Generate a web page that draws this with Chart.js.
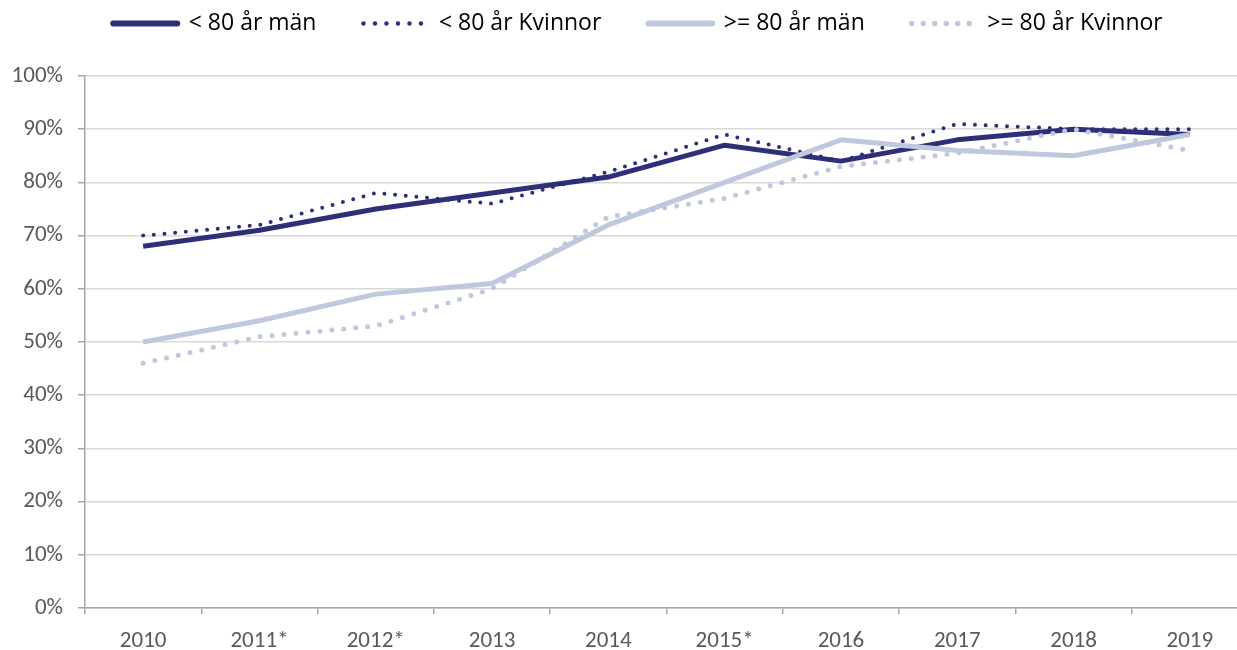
<!DOCTYPE html>
<html>
<head>
<meta charset="utf-8">
<script src="https://cdn.jsdelivr.net/npm/chart.js@4"></script>
<style>
  html, body { margin: 0; padding: 0; background: #fff; overflow: hidden; }
  #wrap { width: 1252px; height: 650px; }
</style>
</head>
<body>
<div id="wrap"><canvas id="myChart" width="1252" height="650"></canvas></div>
<script>
const years = ["2010", "2011*", "2012*", "2013", "2014", "2015*", "2016", "2017", "2018", "2019"];
const under80Men = [68, 71, 75, 78, 81, 87, 84, 88, 90, 89];
const under80Women = [70, 72, 78, 76, 82, 89, 84, 91, 90, 90];
const over80Men = [50, 54, 59, 61, 72, 80, 88, 86, 85, 89];
const over80Women = [46, 51, 53, 60, 73.5, 77, 83, 85.5, 90, 86];
const yTicks = [0, 10, 20, 30, 40, 50, 60, 70, 80, 90, 100];

const dark = "#2e2f78";
const light = "#bfc8dc";
const tickFont = "Carlito, Calibri, Lato, sans-serif";
const legendFont = "'Open Sans', 'Noto Sans', sans-serif";

const datasets = [
  {
    label: "< 80 år män",
    data: under80Men,
    borderColor: dark,
    backgroundColor: dark,
    borderWidth: 5,
    order: 4
  },
  {
    label: "< 80 år Kvinnor",
    data: under80Women,
    borderColor: dark,
    backgroundColor: dark,
    borderWidth: 4,
    borderDash: [0, 10.7],
    borderCapStyle: "round",
    order: 3
  },
  {
    label: ">= 80 år män",
    data: over80Men,
    borderColor: light,
    backgroundColor: light,
    borderWidth: 5,
    order: 2
  },
  {
    label: ">= 80 år Kvinnor",
    data: over80Women,
    borderColor: light,
    backgroundColor: light,
    borderWidth: 5,
    borderDash: [0, 12],
    borderCapStyle: "round",
    order: 1
  }
];

// legend placement tweaks: fixed height and a small shift to the right
const legendFix = {
  id: "legendFix",
  beforeLayout(chart) {
    const legend = chart.legend;
    if (legend && !legend._patched) {
      const fit = legend.fit;
      legend.fit = function () {
        fit.call(this);
        this.height = 111;
      };
      legend._patched = true;
    }
  },
  afterLayout(chart) {
    chart.legend.left += 14;
    chart.legend.right += 14;
  }
};

const config = {
  type: "line",
  data: { labels: years, datasets },
  plugins: [legendFix],
  options: {
    responsive: false,
    animation: false,
    devicePixelRatio: 1,
    layout: { padding: { left: 0, right: 4, top: -35, bottom: 0 } },
    elements: {
      point: { radius: 0, hoverRadius: 0 },
      line: { tension: 0, borderJoinStyle: "round" }
    },
    plugins: {
      tooltip: { enabled: false },
      legend: {
        position: "top",
        labels: {
          usePointStyle: true,
          pointStyle: "line",
          pointStyleWidth: 64,
          padding: 47,
          color: "#000",
          font: { family: legendFont, size: 23 },
          sort: (a, b) => a.datasetIndex - b.datasetIndex,
          generateLabels: (c) => {
            const items = Chart.defaults.plugins.legend.labels.generateLabels(c);
            items.forEach((it) => {
              const ds = c.data.datasets[it.datasetIndex];
              it.pointStyle = "line";
              it.strokeStyle = ds.borderColor;
              it.fillStyle = ds.borderColor;
              it.lineCap = "round";
              it.lineDash = ds.borderDash ? [0, 11.5] : [];
              it.lineWidth = ds.borderDash ? (ds.borderWidth + 0.5) : 6;
            });
            return items;
          }
        }
      }
    },
    scales: {
      x: {
        offset: true,
        grid: {
          offset: true,
          drawOnChartArea: false,
          color: "#a6a6a6",
          lineWidth: 1.5,
          tickLength: 6
        },
        border: { color: "#a6a6a6", width: 1.5 },
        ticks: {
          color: "#595959",
          font: { family: tickFont, size: 23 },
          padding: 13,
          maxRotation: 0
        },
        afterFit: (scale) => { scale.height = 42; }
      },
      y: {
        min: 0,
        max: 100,
        afterBuildTicks: (scale) => { scale.ticks = yTicks.map((v) => ({ value: v })); },
        grid: {
          color: "#d9d9d9",
          tickColor: "#a6a6a6",
          lineWidth: 1.5,
          tickLength: 7
        },
        border: { color: "#a6a6a6", width: 1.5 },
        ticks: {
          color: "#595959",
          font: { family: tickFont, size: 23 },
          padding: 15,
          callback: (v) => v + "%"
        },
        afterFit: (scale) => { scale.width = 85; }
      }
    }
  }
};

const myChart = document.getElementById("myChart");
const chart = new Chart(myChart, config);
</script>
</body>
</html>
